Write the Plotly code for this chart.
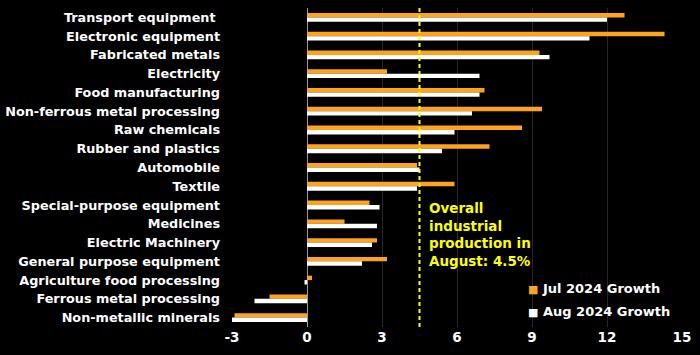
import plotly.graph_objects as go

categories = [
    "Transport equipment\u00a0", "Electronic equipment", "Fabricated metals", "Electricity",
    "Food manufacturing", "Non-ferrous metal processing", "Raw chemicals",
    "Rubber and plastics", "Automobile", "Textile", "Special-purpose equipment",
    "Medicines", "Electric Machinery", "General purpose equipment",
    "Agriculture food processing", "Ferrous metal processing", "Non-metallic minerals",
]
jul_growth = [12.7, 14.3, 9.3, 3.2, 7.1, 9.4, 8.6, 7.3, 4.4, 5.9, 2.5, 1.5, 2.8, 3.2, 0.2, -1.5, -2.9]
aug_growth = [12.0, 11.3, 9.7, 6.9, 6.9, 6.6, 5.9, 5.4, 4.5, 4.4, 2.9, 2.8, 2.6, 2.2, -0.1, -2.1, -3.0]
overall_aug = 4.5
x_ticks = [-3, 0, 3, 6, 9, 12, 15]

ORANGE = "#FFA31C"
WHITE = "#FFFFFF"
YELLOW = "#FFFF00"
FONT = "DejaVu Sans"

fig = go.Figure()
fig.add_trace(go.Bar(y=categories, x=jul_growth, orientation="h", name="Jul 2024 Growth",
                     marker=dict(color=ORANGE, line=dict(width=0)), showlegend=False))
fig.add_trace(go.Bar(y=categories, x=aug_growth, orientation="h", name="Aug 2024 Growth",
                     marker=dict(color=WHITE, line=dict(width=0)), showlegend=False))

fig.add_shape(type="line", xref="x", yref="paper", x0=overall_aug, x1=overall_aug, y0=0, y1=1,
              line=dict(color=YELLOW, width=2, dash="4px,3px"))

fig.add_annotation(xref="x", yref="paper", x=overall_aug, y=0.29, xshift=7,
                   xanchor="left", yanchor="middle", align="left", showarrow=False,
                   text="Overall<br>industrial<br>production in<br>August: %.1f%%" % overall_aug,
                   font=dict(family=FONT, size=13.5, color=YELLOW, weight="bold"))

fig.add_annotation(xref="paper", yref="paper", x=0.652, y=0.12, xanchor="left", yanchor="middle",
                   showarrow=False, align="left",
                   text="<span style='color:%s;font-size:11px'>■</span> Jul 2024 Growth" % ORANGE,
                   font=dict(family=FONT, size=13, color=WHITE, weight="bold"))
fig.add_annotation(xref="paper", yref="paper", x=0.652, y=0.05, xanchor="left", yanchor="middle",
                   showarrow=False, align="left",
                   text="<span style='color:%s;font-size:11px'>■</span> Aug 2024 Growth" % WHITE,
                   font=dict(family=FONT, size=13, color=WHITE, weight="bold"))

fig.update_layout(
    width=700, height=355,
    margin=dict(l=231, r=17, t=8, b=28),
    paper_bgcolor="#000000", plot_bgcolor="#000000",
    barmode="group", bargap=0.53, bargroupgap=0,
    font=dict(family=FONT, color=WHITE),
    xaxis=dict(range=[-3.04, 15.04], tickvals=x_ticks, ticktext=[str(v) for v in x_ticks],
               showgrid=True, gridcolor="#262626", gridwidth=1,
               zeroline=True, zerolinecolor="#9a9a9a", zerolinewidth=1,
               tickfont=dict(family=FONT, size=13.5, color=WHITE, weight="bold"),
               ticks="", showline=False, fixedrange=True, automargin=False),
    yaxis=dict(autorange="reversed", showgrid=False, zeroline=False, showline=False,
               ticks="", ticklabelstandoff=10, fixedrange=True, automargin=False,
               tickfont=dict(family=FONT, size=12.8, color=WHITE, weight="bold")),
    showlegend=False,
)

fig.write_html("out.html", config={"displayModeBar": False},
               post_script="document.body.style.margin='0';document.body.style.background='#000';")
